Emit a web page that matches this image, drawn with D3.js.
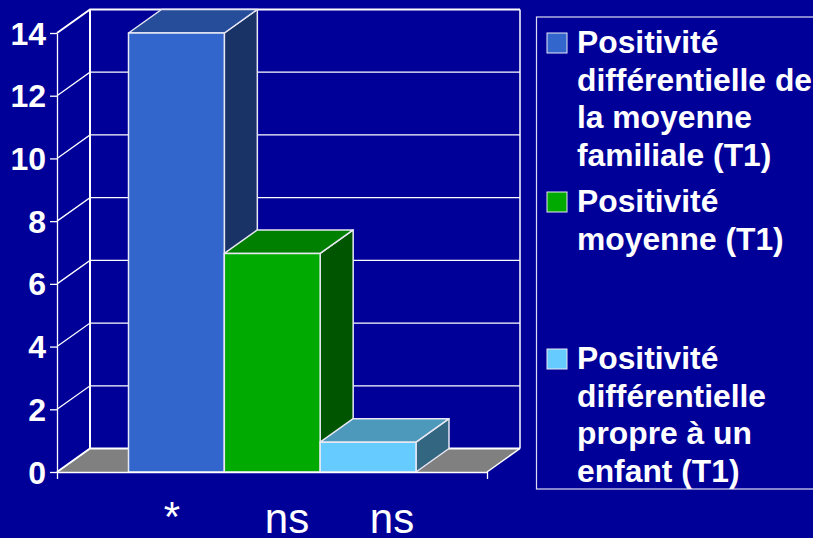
<!DOCTYPE html>
<html>
<head>
<meta charset="utf-8">
<script src="https://cdn.jsdelivr.net/npm/d3@7"></script>
<style>
  html, body { margin: 0; padding: 0; background: #000099; overflow: hidden; }
  text { font-family: "Liberation Sans", Arial, sans-serif; fill: #fff; }
</style>
</head>
<body>
<div id="chart"></div>
<script>
// values
const series = ["moyenne", "moyenneT1", "propre"];
const values = [14, 6.97, 0.95];
const yTicks = [0, 2, 4, 6, 8, 10, 12, 14];
const sigLabels = ["*", "ns", "ns"];
const legendLines = [
    ["Positivité", "différentielle de", "la moyenne", "familiale (T1)"],
    ["Positivité", "moyenne (T1)"],
    ["Positivité", "différentielle", "propre à un", "enfant (T1)"]
];
const frontColors = ["#3366cc", "#00aa00", "#66ccff"];
const topColors = ["#264d99", "#008000", "#4d99bb"];
const sideColors = ["#1a3366", "#005500", "#336680"];

const width = 813, height = 538;
const depthX = 33, depthY = -23.5;
const left = 57, right = 487;

let svg = d3.select("#chart")
    .append("svg")
    .attr("width", width)
    .attr("height", height)
    .style("display", "block");

let y = d3.scaleLinear().domain([0, 14]).range([472, 33]);
let x = d3.scaleBand().domain(series).range([128.5, 416]);
let frame = d3.scaleLinear().domain([0, 1]).range([left, right]);

function poly(points) {
    return points.map(p => p.join(",")).join(" ");
}

// floor
svg.append("polygon")
    .attr("points", poly([[left, y(0)], [left + depthX, y(0) + depthY], [right + depthX, y(0) + depthY], [right, y(0)]]))
    .attr("fill", "#808080");

// back wall and grid
let wall = svg.append("g")
    .attr("stroke", "#fff")
    .attr("fill", "none");

wall.selectAll(".grid")
    .data(yTicks)
    .join("polyline")
    .attr("class", "grid")
    .attr("stroke-width", d => (d == 14 || d == 0) ? 2 : 1.3)
    .attr("points", d => poly([[left, y(d)], [left + depthX, y(d) + depthY], [right + depthX, y(d) + depthY]]));

wall.append("line")
    .attr("x1", left + depthX).attr("x2", left + depthX)
    .attr("y1", y(14) + depthY).attr("y2", y(0) + depthY)
    .attr("stroke-width", 2);

wall.append("line")
    .attr("x1", right + depthX).attr("x2", right + depthX)
    .attr("y1", y(14) + depthY).attr("y2", y(0) + depthY)
    .attr("stroke-width", 1.5);

wall.append("line")
    .attr("x1", right).attr("x2", right + depthX)
    .attr("y1", y(0)).attr("y2", y(0) + depthY)
    .attr("stroke-width", 1.5);

// bars, each one is three faces
let bars = svg.append("g")
    .attr("stroke", "#e8e8f4")
    .attr("stroke-width", 1.5)
    .attr("stroke-linejoin", "round")
    .selectAll("g")
    .data(values)
    .join("g");

bars.append("polygon")
    .attr("fill", (d, i) => sideColors[i])
    .attr("points", (d, i) => {
        let x1 = x(series[i]) + x.bandwidth();
        return poly([[x1, y(d)], [x1 + depthX, y(d) + depthY], [x1 + depthX, y(0) + depthY], [x1, y(0)]]);
    });

bars.append("polygon")
    .attr("fill", (d, i) => topColors[i])
    .attr("points", (d, i) => {
        let x0 = x(series[i]), x1 = x0 + x.bandwidth();
        return poly([[x0, y(d)], [x0 + depthX, y(d) + depthY], [x1 + depthX, y(d) + depthY], [x1, y(d)]]);
    });

bars.append("rect")
    .attr("fill", (d, i) => frontColors[i])
    .attr("x", (d, i) => x(series[i]))
    .attr("y", d => y(d))
    .attr("width", x.bandwidth())
    .attr("height", d => y(0) - y(d));

// axes
let yAxis = svg.append("g")
    .attr("transform", `translate(${left}, 0)`)
    .call(d3.axisLeft(y).tickValues(yTicks).tickSize(7).tickPadding(4).tickSizeOuter(0));

yAxis.selectAll("line, path").attr("stroke", "#fff").attr("stroke-width", 1.3);
yAxis.selectAll("text")
    .attr("dy", null)
    .attr("y", 11)
    .attr("font-family", null)
    .style("font-size", "32px")
    .style("font-weight", "bold");

let xAxis = svg.append("g")
    .attr("transform", `translate(0, ${y(0)})`)
    .call(d3.axisBottom(frame).tickValues([0, 1]).tickSize(7).tickSizeOuter(0).tickFormat(""));

xAxis.selectAll("line, path").attr("stroke", "#fff").attr("stroke-width", 1.3);

// hand placed significance labels under the bars
const sigX = [172, 287, 392];
const sigY = [531, 533, 533];
svg.selectAll(".sig")
    .data(sigLabels)
    .join("text")
    .attr("class", "sig")
    .attr("x", (d, i) => sigX[i])
    .attr("y", (d, i) => sigY[i])
    .attr("text-anchor", "middle")
    .style("font-size", "42px")
    .text(d => d);

// legend
svg.append("rect")
    .attr("x", 536.5).attr("y", 17)
    .attr("width", 300).attr("height", 472)
    .attr("fill", "none")
    .attr("stroke", "#dcdcf0")
    .attr("stroke-width", 1.2);

const legendTop = [53, 212, 369];
const lineHeight = 37.5;

let legend = svg.selectAll(".legend")
    .data(legendLines)
    .join("g")
    .attr("class", "legend")
    .attr("transform", (d, i) => `translate(0, ${legendTop[i]})`);

legend.append("rect")
    .attr("x", 547).attr("y", -20)
    .attr("width", 20).attr("height", 20)
    .attr("fill", (d, i) => frontColors[i])
    .attr("stroke", "#e8e8f4")
    .attr("stroke-width", 1);

legend.selectAll("text")
    .data(d => d)
    .join("text")
    .attr("x", 577)
    .attr("y", (d, i) => i * lineHeight)
    .style("font-size", "31.8px")
    .style("font-weight", "bold")
    .text(d => d);
</script>
</body>
</html>
